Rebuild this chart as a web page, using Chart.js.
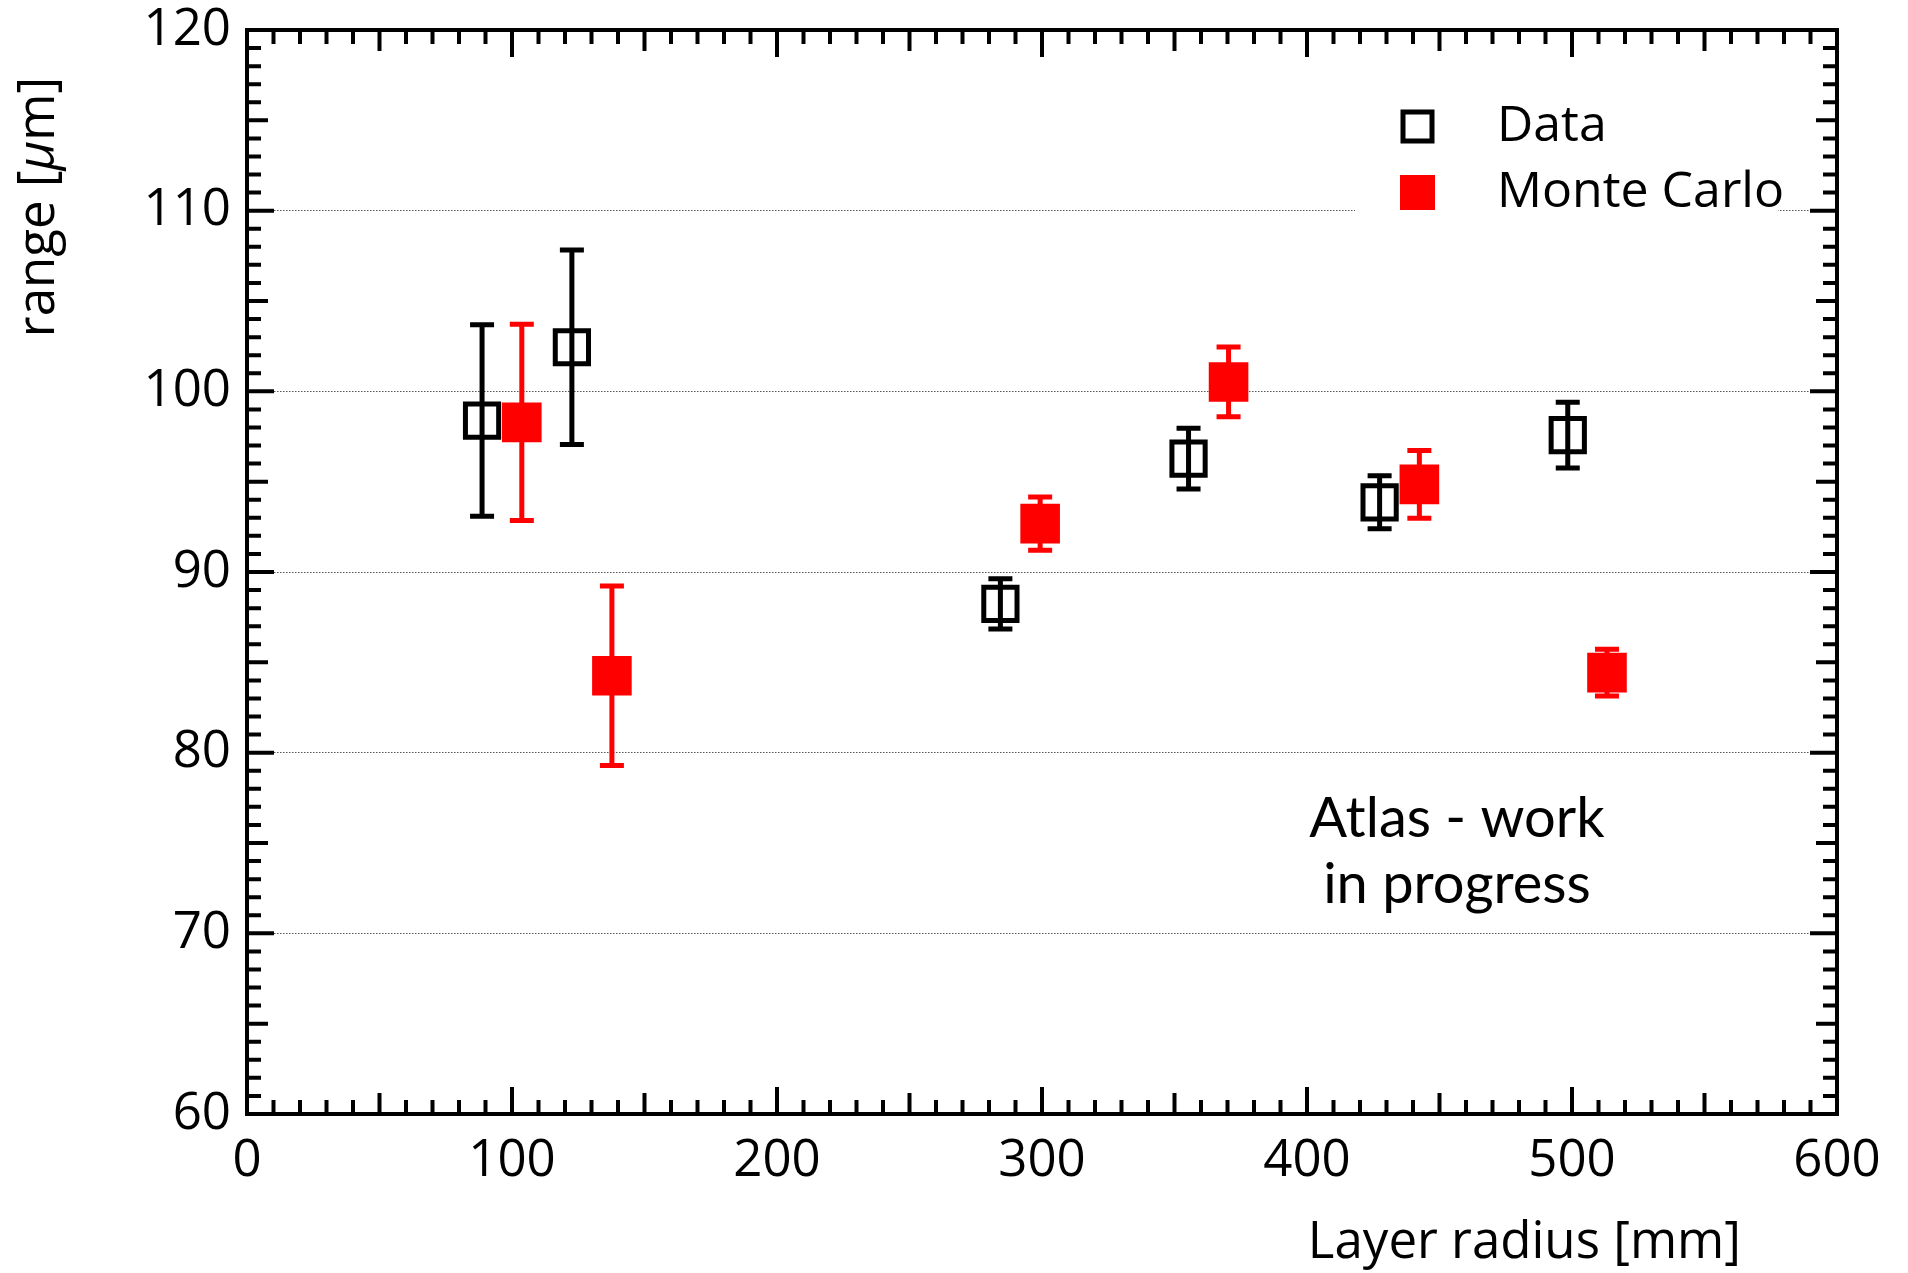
<!DOCTYPE html>
<html>
<head>
<meta charset="utf-8">
<script src="https://cdn.jsdelivr.net/npm/chart.js@4.4.0/dist/chart.umd.min.js"></script>
<style>
  html, body { margin: 0; padding: 0; background: #fff; }
  #wrap { width: 1908px; height: 1273px; position: relative; }
</style>
</head>
<body>
<div id="wrap"><canvas id="rangeChart"></canvas></div>
<script>
// data points: layer radius [mm], range [um], symmetric error
const dataRadius = [88.7, 122.6, 284.3, 355.3, 427.4, 498.4];
const dataRange = [98.38, 102.44, 88.24, 96.27, 93.86, 97.58];
const dataErr = [5.3, 5.38, 1.39, 1.68, 1.47, 1.82];

// monte carlo points
const mcRadius = [103.7, 137.7, 299.3, 370.4, 442.4, 513.2];
const mcRange = [98.28, 84.26, 92.68, 100.52, 94.85, 84.43];
const mcErr = [5.43, 4.97, 1.47, 1.93, 1.88, 1.3];

const xTicks = [0, 100, 200, 300, 400, 500, 600];
const yTicks = [60, 70, 80, 90, 100, 110, 120];

const seriesNames = ["Data", "Monte Carlo"];
const noteLines = ["Atlas - work", "in progress"];

const tickFont = "'Open Sans', sans-serif";

function points(xs, ys, errs) {
  return xs.map((x, i) => ({ x: x, y: ys[i], err: errs[i] }));
}

// vertical error bars with caps, drawn under the markers
const errorBars = {
  id: "errorBars",
  beforeDatasetsDraw(chart) {
    const { ctx, scales } = chart;
    chart.data.datasets.forEach((ds) => {
      ctx.save();
      ctx.strokeStyle = ds.barColor;
      ctx.lineWidth = 5;
      ds.data.forEach((p) => {
        const px = scales.x.getPixelForValue(p.x);
        const top = scales.y.getPixelForValue(p.y + p.err);
        const bot = scales.y.getPixelForValue(p.y - p.err);
        ctx.beginPath();
        ctx.moveTo(px, top);
        ctx.lineTo(px, bot);
        ctx.moveTo(px - 12, top);
        ctx.lineTo(px + 12, top);
        ctx.moveTo(px - 12, bot);
        ctx.lineTo(px + 12, bot);
        ctx.stroke();
      });
      ctx.restore();
    });
  },
};

// thick frame with inward ticks on all four sides
const frameTicks = {
  id: "frameTicks",
  afterDatasetsDraw(chart) {
    const { ctx, chartArea: a, scales } = chart;
    ctx.save();
    ctx.strokeStyle = "#000";
    ctx.lineWidth = 4;
    ctx.beginPath();
    for (let v = 0; v <= 600; v += 10) {
      const len = v % 100 === 0 ? 27 : v % 50 === 0 ? 21 : 14;
      const px = scales.x.getPixelForValue(v);
      ctx.moveTo(px, a.bottom);
      ctx.lineTo(px, a.bottom - len);
      ctx.moveTo(px, a.top);
      ctx.lineTo(px, a.top + len);
    }
    for (let v = 60; v <= 120; v += 1) {
      const len = v % 10 === 0 ? 27 : v % 5 === 0 ? 21 : 14;
      const py = scales.y.getPixelForValue(v);
      ctx.moveTo(a.left, py);
      ctx.lineTo(a.left + len, py);
      ctx.moveTo(a.right, py);
      ctx.lineTo(a.right - len, py);
    }
    ctx.stroke();
    ctx.strokeRect(a.left, a.top, a.right - a.left, a.bottom - a.top);
    ctx.restore();
  },
};

// legend box, axis titles and the note text
const annotations = {
  id: "annotations",
  afterDraw(chart) {
    const { ctx } = chart;
    ctx.save();

    // legend
    ctx.fillStyle = "#fff";
    ctx.fillRect(1355, 85, 423, 145);
    ctx.strokeStyle = "#000";
    ctx.lineWidth = 5;
    ctx.strokeRect(1403, 112, 29, 29);
    ctx.fillStyle = "#ff0000";
    ctx.fillRect(1400, 175, 35, 35);
    ctx.fillStyle = "#000";
    ctx.font = "50px " + tickFont;
    ctx.textAlign = "left";
    ctx.textBaseline = "middle";
    ctx.fillText(seriesNames[0], 1497, 127);
    ctx.fillText(seriesNames[1], 1497, 193);

    // x title
    ctx.font = "51px " + tickFont;
    ctx.textAlign = "right";
    ctx.fillText("Layer radius [mm]", 1741, 1243);

    // y title, with an italic mu
    ctx.save();
    ctx.translate(54, 207);
    ctx.rotate(-Math.PI / 2);
    ctx.textAlign = "left";
    ctx.textBaseline = "alphabetic";
    const parts = [
      ["range [", "51px " + tickFont],
      ["\u03bc", "italic 51px " + tickFont],
      ["m]", "51px " + tickFont],
    ];
    let total = 0;
    parts.forEach(([t, f]) => {
      ctx.font = f;
      total += ctx.measureText(t).width;
    });
    let cx = -total / 2;
    parts.forEach(([t, f]) => {
      ctx.font = f;
      ctx.fillText(t, cx, 0);
      cx += ctx.measureText(t).width;
    });
    ctx.restore();

    // note
    ctx.font = "56px Lato, sans-serif";
    ctx.textAlign = "center";
    ctx.textBaseline = "alphabetic";
    ctx.fillText(noteLines[0], 1457, 837);
    ctx.fillText(noteLines[1], 1457, 903);

    ctx.restore();
  },
};

const ctx = document.getElementById("rangeChart").getContext("2d");

window.rangeChart = new Chart(ctx, {
  type: "scatter",
  data: {
    datasets: [
      {
        label: seriesNames[0],
        data: points(dataRadius, dataRange, dataErr),
        pointStyle: "rect",
        pointRadius: 23.5,
        pointHoverRadius: 23.5,
        pointBorderWidth: 5,
        borderColor: "#000",
        backgroundColor: "rgba(0,0,0,0)",
        barColor: "#000",
      },
      {
        label: seriesNames[1],
        data: points(mcRadius, mcRange, mcErr),
        pointStyle: "rect",
        pointRadius: 28,
        pointHoverRadius: 28,
        pointBorderWidth: 0,
        borderColor: "#ff0000",
        backgroundColor: "#ff0000",
        barColor: "#ff0000",
      },
    ],
  },
  options: {
    responsive: true,
    maintainAspectRatio: false,
    animation: false,
    layout: {
      padding: { left: 0, top: 30, right: 71, bottom: 0 },
    },
    plugins: {
      legend: { display: false },
      tooltip: { enabled: false },
    },
    scales: {
      x: {
        type: "linear",
        min: 0,
        max: 600,
        afterBuildTicks: (s) => {
          s.ticks = xTicks.map((v) => ({ value: v }));
        },
        afterFit: (s) => {
          s.height = 159;
          s.paddingLeft = 0;
          s.paddingRight = 0;
        },
        grid: { display: false, drawTicks: false },
        border: { display: false },
        ticks: {
          color: "#000",
          padding: 22,
          maxRotation: 0,
          autoSkip: false,
          font: { family: tickFont, size: 51, lineHeight: 1 },
        },
      },
      y: {
        type: "linear",
        min: 60,
        max: 120,
        afterBuildTicks: (s) => {
          s.ticks = yTicks.map((v) => ({ value: v }));
        },
        afterFit: (s) => {
          s.width = 247;
          s.paddingTop = 0;
          s.paddingBottom = 0;
        },
        grid: { color: "#555", lineWidth: 1, drawTicks: false },
        border: { display: false, dash: [1.5, 1.5] },
        ticks: {
          color: "#000",
          padding: 16,
          autoSkip: false,
          font: { family: tickFont, size: 51, lineHeight: 1 },
        },
      },
    },
  },
  plugins: [errorBars, frameTicks, annotations],
});
</script>
</body>
</html>
